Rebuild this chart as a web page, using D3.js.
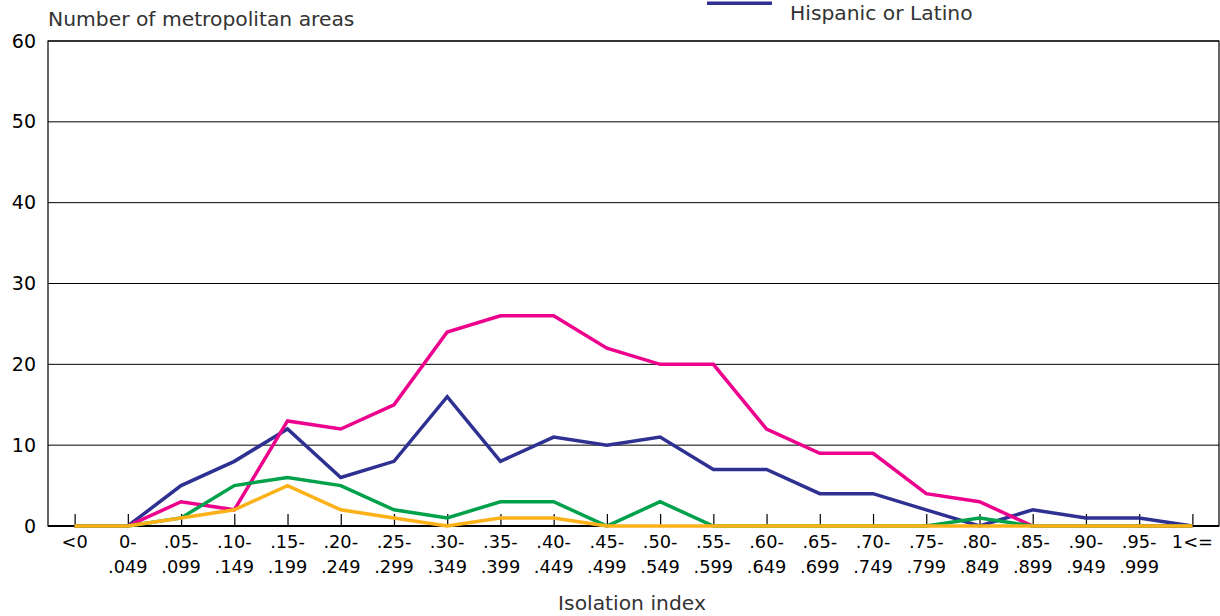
<!DOCTYPE html>
<html>
<head>
<meta charset="utf-8">
<script src="https://cdn.jsdelivr.net/npm/d3@7"></script>
<style>
  html, body { margin: 0; padding: 0; background: #fff; }
  svg { display: block; font-family: "DejaVu Sans", sans-serif; }
</style>
</head>
<body>
<svg id="chart" width="1220" height="616"></svg>
<script>
const categories = ["<0","0-|.049",".05-|.099",".10-|.149",".15-|.199",".20-|.249",".25-|.299",".30-|.349",".35-|.399",".40-|.449",".45-|.499",".50-|.549",".55-|.599",".60-|.649",".65-|.699",".70-|.749",".75-|.799",".80-|.849",".85-|.899",".90-|.949",".95-|.999","1<="];
const hispanic = [0,0,5,8,12,6,8,16,8,11,10,11,7,7,4,4,2,0,2,1,1,0];
const magentaSeries = [0,0,3,2,13,12,15,24,26,26,22,20,20,12,9,9,4,3,0,0,0,0];
const greenSeries = [0,0,1,5,6,5,2,1,3,3,0,3,0,0,0,0,0,1,0,0,0,0];
const orangeSeries = [0,0,1,2,5,2,1,0,1,1,0,0,0,0,0,0,0,0,0,0,0,0];
const yTicks = [0,10,20,30,40,50,60];

const series = [
  {name: "Hispanic or Latino", values: hispanic, color: "#2e3192"},
  {name: "magenta", values: magentaSeries, color: "#ec008c"},
  {name: "green", values: greenSeries, color: "#00a14b"},
  {name: "orange", values: orangeSeries, color: "#fbb117"}
];

const svg = d3.select("#chart");
const pLeft = 48, pRight = 1219, pTop = 41, pBottom = 526;

const x = d3.scalePoint().domain(categories).range([pLeft, pRight]).padding(0.5);
const y = d3.scaleLinear().domain([0, 60]).range([pBottom, pTop]);

// gridlines
svg.append("g").selectAll("line").data(yTicks.filter(d => d > 0)).join("line")
  .attr("x1", pLeft).attr("x2", pRight)
  .attr("y1", d => y(d)).attr("y2", d => y(d))
  .attr("stroke", "#000").attr("stroke-width", 1);

// frame
svg.append("rect").attr("x", pLeft).attr("y", pTop)
  .attr("width", pRight - pLeft).attr("height", pBottom - pTop)
  .attr("fill", "none").attr("stroke", "#000").attr("stroke-width", 1.2);
svg.append("line").attr("x1", pLeft).attr("x2", pRight)
  .attr("y1", pBottom).attr("y2", pBottom)
  .attr("stroke", "#000").attr("stroke-width", 2);

// y axis labels
const yAxis = d3.axisLeft(y).tickValues(yTicks).tickSize(0).tickPadding(12);
const yg = svg.append("g").attr("transform", `translate(${pLeft},0)`).call(yAxis);
yg.select(".domain").remove();
yg.selectAll("text").attr("font-size", 19).attr("fill", "#000")
  .attr("font-family", "DejaVu Sans, sans-serif");

// x axis ticks (inside, upward)
const xAxis = d3.axisTop(x).tickSize(12).tickFormat("");
const xg = svg.append("g").attr("transform", `translate(0,${pBottom})`).call(xAxis);
xg.select(".domain").remove();
xg.selectAll("line").attr("stroke", "#000").attr("stroke-width", 1.2);

// x labels
const xl = svg.append("g");
categories.forEach(c => {
  const parts = c.split("|");
  const t = xl.append("text").attr("x", x(c)).attr("y", 548)
    .attr("text-anchor", "middle").attr("font-size", 17.8).attr("fill", "#000");
  parts.forEach((p, i) => {
    t.append("tspan").attr("x", x(c)).attr("dy", i === 0 ? 0 : 25).text(p);
  });
});

// lines
const line = d3.line().x((d, i) => x(categories[i])).y(d => y(d));
svg.append("g").selectAll("path").data(series).join("path")
  .attr("d", d => line(d.values))
  .attr("fill", "none").attr("stroke", d => d.color)
  .attr("stroke-width", 3.5).attr("stroke-linejoin", "miter");

// titles
svg.append("text").attr("x", 48).attr("y", 26).attr("font-size", 20.3)
  .attr("fill", "#333").text("Number of metropolitan areas");
svg.append("text").attr("x", 632).attr("y", 610).attr("text-anchor", "middle")
  .attr("font-size", 20.3).attr("fill", "#333").text("Isolation index");

// legend (partially visible in the reference)
svg.append("line").attr("x1", 707).attr("x2", 772).attr("y1", 3.3).attr("y2", 3.3)
  .attr("stroke", series[0].color).attr("stroke-width", 3.5);
svg.append("text").attr("x", 790).attr("y", 19.5).attr("font-size", 20.3)
  .attr("fill", "#333").text(series[0].name);
</script>
</body>
</html>
